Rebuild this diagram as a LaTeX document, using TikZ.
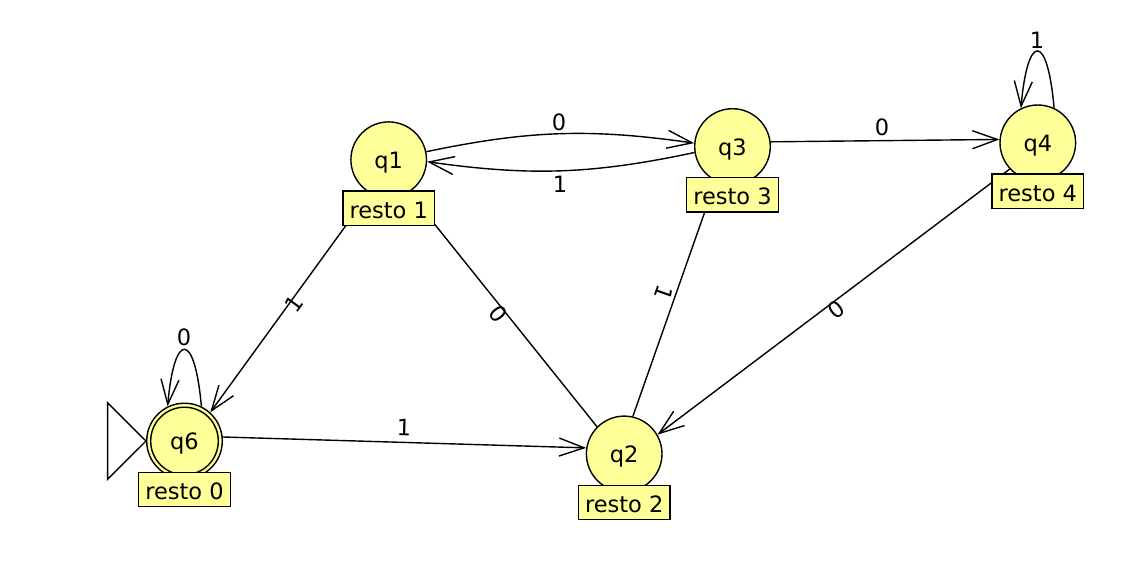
\documentclass[tikz,border=0pt]{standalone}
\usepackage{fontspec}
\setmainfont{DejaVu Sans}
\usetikzlibrary{arrows.meta}
\definecolor{stateyellow}{RGB}{255,255,153}
\begin{document}
\begin{tikzpicture}[x=1pt,y=1pt,
  font=\fontsize{22.5}{27}\selectfont,
  state/.style={circle, draw, fill=stateyellow, line width=1.4pt,
    minimum size=75.6pt, inner sep=0pt, text height=17pt, text depth=0pt},
  restobox/.style={rectangle, draw, fill=stateyellow, line width=1.3pt,
    minimum width=91.6pt, minimum height=34.3pt, inner sep=0pt,
    text height=20pt, text depth=0pt},
  trans/.style={line width=1.4pt, -{Straight Barb[length=25pt,width=18pt]}},
  sym/.style={inner sep=0pt}
]
% canvas
\fill[white] (0,0) rectangle (1148,-565);
\useasboundingbox (0,0) rectangle (1148,-565);

% states
\node[state] (q1) at (388.7,-159.7) {q1};
\node[state] (q3) at (732.5,-146.5) {q3};
\node[state] (q4) at (1037.8,-142.8) {q4};
\node[state] (q2) at (624.2,-453.9) {q2};
\node[state] (q6) at (184.5,-441) {q6};
% q6 is accepting: inner ring
\draw[line width=1.4pt] (q6.center) circle[radius=33.8];
% q6 is initial: triangle marker
\draw[line width=1.4pt] (q6.west) -- ++(-38.4,38.3) -- ++(0,-76.6) -- cycle;

% transitions
\draw[trans] (q1.12) to[bend left=10] (q3.175);
\draw[trans] (q3.189) to[bend left=10] (q1.357);
\draw[trans] (q3.7) -- (q4.175);
\draw[trans] (q1.240) -- (q6.48);
\draw[trans] (q2.135) -- (q1.302);
\draw[trans] (q2.77) -- (q3.244);
\draw[trans] (q4.223) -- (q2.30);
\draw[trans] (q6.6) -- (q2.171);
\draw[trans] (q6.64) .. controls +(95:76) and +(85:76) .. (q6.116);
\draw[trans] (q4.65) .. controls +(95:76) and +(85:76) .. (q4.116);

% transition symbols
\node[sym] (l13) at (559,-122) {0};
\node[sym] (l31) at (560,-184) {1};
\node[sym] (l34) at (882,-127) {0};
\node[sym, rotate=54] (l16) at (294,-304) {1};
\node[sym, rotate=-51.3] (l21) at (498,-314) {0};
\node[sym, rotate=-109.4] (l23) at (664,-293) {1};
\node[sym, rotate=37] (l42) at (836,-310) {0};
\node[sym, rotate=-1.7] (l62) at (404,-428) {1};
\node[sym] (l66) at (184,-337) {0};
\node[sym] (l44) at (1037,-40) {1};

% state labels
\node[restobox] (r1) at ([yshift=-48.4pt]q1.center) {resto 1};
\node[restobox] (r3) at ([yshift=-48.4pt]q3.center) {resto 3};
\node[restobox] (r4) at ([yshift=-48.4pt]q4.center) {resto 4};
\node[restobox] (r2) at ([yshift=-48.4pt]q2.center) {resto 2};
\node[restobox] (r0) at ([yshift=-48.4pt]q6.center) {resto 0};
\end{tikzpicture}
\end{document}
